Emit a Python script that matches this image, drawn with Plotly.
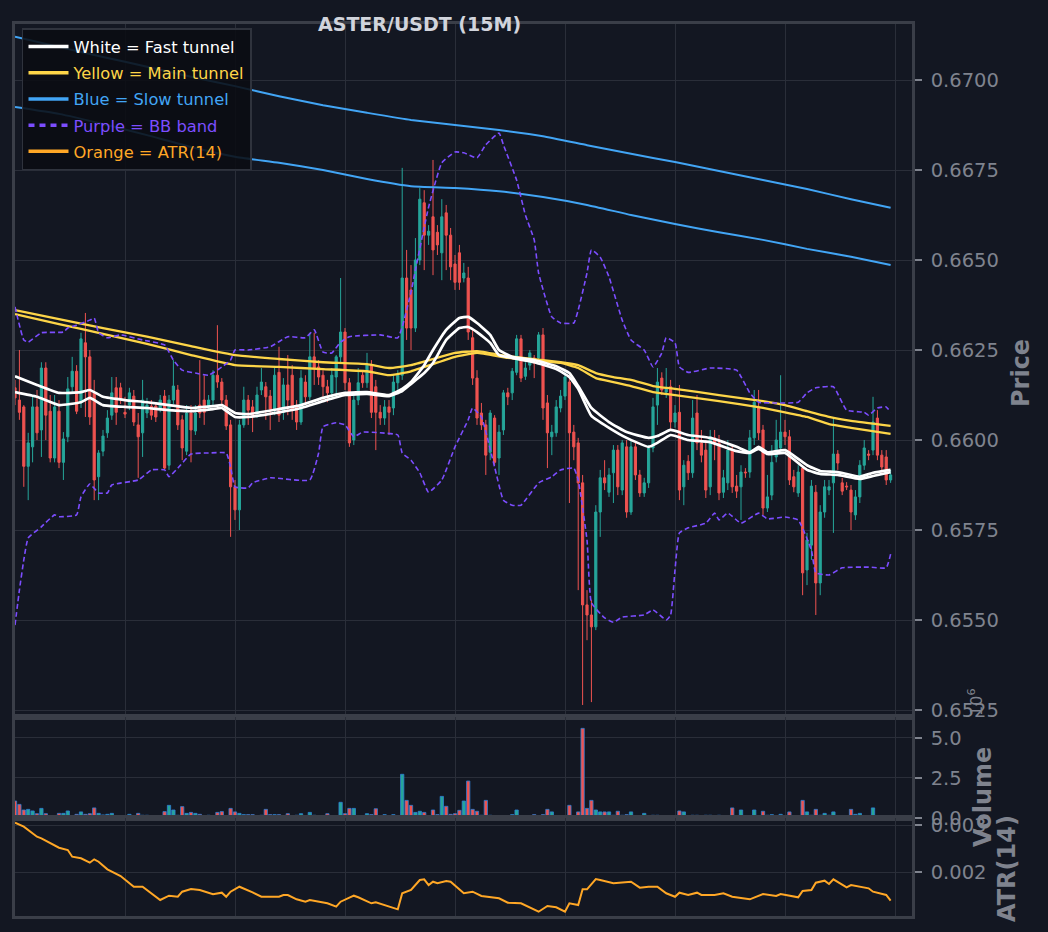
import plotly.graph_objects as go

# ---------------- data ----------------
candle_index = list(range(200))

open_price = [
 0.66145,0.66111,0.66092,0.65927,0.65981,0.66092,0.66028,0.66200,0.66080,0.65950,
 0.66080,0.65938,0.66009,0.66148,0.66191,0.66103,0.66270,0.66231,0.66131,0.65898,
 0.65969,0.66020,0.66069,0.66145,0.66145,0.66077,0.66097,0.66122,0.66042,0.66020,
 0.66075,0.66094,0.66094,0.66089,0.66122,0.65930,0.66111,0.66139,0.66056,0.65969,
 0.66075,0.66025,0.66097,0.66111,0.66092,0.66111,0.66180,0.66161,0.66111,0.66042,
 0.65870,0.65806,0.66042,0.66111,0.66092,0.66077,0.66139,0.66148,0.66122,0.66083,
 0.66188,0.66077,0.66153,0.66180,0.66092,0.66050,0.66161,0.66120,0.66231,0.66203,
 0.66180,0.66148,0.66131,0.66175,0.66231,0.66300,0.66159,0.66000,0.66111,0.66180,
 0.66159,0.66208,0.66148,0.66077,0.66061,0.66092,0.66089,0.66159,0.66180,0.66450,
 0.66417,0.66311,0.66500,0.66659,0.66569,0.66620,0.66577,0.66520,0.66631,0.66569,
 0.66489,0.66520,0.66450,0.66450,0.66284,0.66172,0.66075,0.66042,0.65966,0.66061,
 0.65950,0.66028,0.66131,0.66131,0.66188,0.66281,0.66177,0.66208,0.66228,0.66228,
 0.66292,0.66103,0.66009,0.66020,0.66089,0.66122,0.66161,0.66022,0.65992,0.65881,
 0.65542,0.65514,0.65481,0.65800,0.65895,0.65855,0.65909,0.65972,0.65861,0.65981,
 0.65800,0.65981,0.65903,0.65853,0.65881,0.65978,0.66097,0.66172,0.66133,0.66148,
 0.66050,0.66077,0.65870,0.65941,0.65909,0.66075,0.65992,0.65972,0.65870,0.66006,
 0.65992,0.65855,0.65881,0.65972,0.65872,0.65870,0.65911,0.65911,0.66006,0.66092,
 0.66028,0.65811,0.65847,0.65953,0.65978,0.66022,0.66009,0.65898,0.65853,0.65922,
 0.65639,0.65708,0.65855,0.65603,0.65800,0.65861,0.65881,0.65961,0.65881,0.65872,
 0.65861,0.65792,0.65842,0.65930,0.65961,0.65972,0.66061,0.65958,0.65953,0.65889]

close_price = [
 0.66117,0.66077,0.65927,0.65992,0.66092,0.66020,0.66200,0.66069,0.65950,0.66092,
 0.65938,0.66003,0.66142,0.66191,0.66080,0.66281,0.66231,0.66064,0.65889,0.65964,
 0.66011,0.66061,0.66131,0.66077,0.66111,0.66072,0.66131,0.66050,0.66009,0.66111,
 0.66097,0.66069,0.66064,0.66111,0.65922,0.66111,0.66150,0.66042,0.65978,0.66075,
 0.66028,0.66075,0.66075,0.66077,0.66111,0.66180,0.66161,0.66111,0.66039,0.65870,
 0.65806,0.66042,0.66111,0.66083,0.66069,0.66125,0.66161,0.66120,0.66086,0.66180,
 0.66069,0.66153,0.66111,0.66083,0.66050,0.66172,0.66120,0.66231,0.66200,0.66175,
 0.66148,0.66131,0.66180,0.66231,0.66300,0.66159,0.65992,0.66111,0.66159,0.66159,
 0.66208,0.66077,0.66077,0.66061,0.66092,0.66077,0.66161,0.66180,0.66450,0.66311,
 0.66311,0.66500,0.66669,0.66569,0.66580,0.66528,0.66542,0.66620,0.66569,0.66481,
 0.66438,0.66438,0.66464,0.66300,0.66172,0.66061,0.66042,0.65958,0.66075,0.65938,
 0.66022,0.66131,0.66120,0.66191,0.66281,0.66172,0.66200,0.66242,0.66214,0.66292,
 0.66089,0.66020,0.66022,0.66092,0.66122,0.66175,0.66020,0.65981,0.65881,0.65542,
 0.65514,0.65481,0.65800,0.65895,0.65881,0.65903,0.65972,0.65870,0.65992,0.65800,
 0.65981,0.65903,0.65853,0.65881,0.65978,0.66092,0.66161,0.66139,0.66145,0.66050,
 0.66075,0.65861,0.65930,0.65909,0.66061,0.65992,0.65958,0.65861,0.66009,0.65992,
 0.65853,0.65895,0.65972,0.65870,0.65858,0.65911,0.65909,0.66006,0.66105,0.66020,
 0.65811,0.65842,0.65938,0.66000,0.66022,0.66009,0.65889,0.65870,0.65911,0.65631,
 0.65722,0.65872,0.65603,0.65800,0.65870,0.65870,0.65961,0.65936,0.65858,0.65870,
 0.65800,0.65842,0.65930,0.65978,0.65958,0.66050,0.65958,0.65925,0.65889,0.65903]

high_price = [
 0.66167,0.66250,0.66097,0.66020,0.66120,0.66139,0.66216,0.66216,0.66125,0.66125,
 0.66111,0.66022,0.66175,0.66231,0.66208,0.66298,0.66353,0.66250,0.66167,0.65972,
 0.66028,0.66083,0.66175,0.66175,0.66159,0.66120,0.66145,0.66139,0.66075,0.66167,
 0.66117,0.66111,0.66105,0.66125,0.66139,0.66125,0.66222,0.66153,0.66069,0.66097,
 0.66097,0.66097,0.66222,0.66180,0.66125,0.66194,0.66319,0.66172,0.66125,0.66056,
 0.65889,0.66056,0.66148,0.66125,0.66111,0.66148,0.66200,0.66161,0.66139,0.66203,
 0.66259,0.66172,0.66236,0.66208,0.66111,0.66194,0.66180,0.66298,0.66298,0.66222,
 0.66194,0.66167,0.66200,0.66236,0.66450,0.66311,0.66172,0.66125,0.66200,0.66194,
 0.66242,0.66222,0.66167,0.66097,0.66111,0.66111,0.66180,0.66194,0.66756,0.66528,
 0.66486,0.66561,0.66700,0.66694,0.66597,0.66778,0.66597,0.66669,0.66653,0.66589,
 0.66514,0.66542,0.66492,0.66481,0.66306,0.66194,0.66103,0.66056,0.66083,0.66069,
 0.66042,0.66139,0.66145,0.66200,0.66292,0.66292,0.66216,0.66250,0.66236,0.66300,
 0.66311,0.66125,0.66042,0.66111,0.66139,0.66188,0.66180,0.66042,0.66006,0.65903,
 0.65583,0.65556,0.65819,0.65917,0.65944,0.65922,0.65986,0.65986,0.66000,0.66000,
 0.66000,0.65992,0.65917,0.65895,0.65986,0.66117,0.66200,0.66188,0.66200,0.66167,
 0.66097,0.66153,0.65944,0.65958,0.66111,0.66125,0.66028,0.66000,0.66028,0.66028,
 0.66014,0.65917,0.66000,0.65986,0.65903,0.65930,0.65922,0.66028,0.66139,0.66139,
 0.66042,0.65903,0.65986,0.66056,0.66180,0.66056,0.66028,0.65917,0.65930,0.65930,
 0.65742,0.65889,0.65875,0.65819,0.65889,0.65889,0.66064,0.65972,0.65895,0.65883,
 0.65875,0.65861,0.65944,0.66000,0.65972,0.66120,0.66083,0.65972,0.65972,0.65917]

low_price = [
 0.66097,0.66056,0.65870,0.65833,0.65938,0.66000,0.65953,0.66000,0.65938,0.65938,
 0.65922,0.65889,0.65994,0.66133,0.66072,0.66089,0.66064,0.66042,0.65833,0.65833,
 0.65955,0.66006,0.66056,0.66042,0.66100,0.66061,0.66083,0.66039,0.65895,0.65953,
 0.66061,0.66056,0.66050,0.66077,0.65917,0.65917,0.66100,0.66028,0.65944,0.65958,
 0.65938,0.66014,0.66061,0.66042,0.66083,0.66097,0.66145,0.66097,0.66028,0.65731,
 0.65778,0.65750,0.66034,0.66042,0.66022,0.66061,0.66125,0.66056,0.66028,0.66069,
 0.66050,0.66056,0.66069,0.66056,0.66028,0.66042,0.66103,0.66111,0.66153,0.66153,
 0.66111,0.66105,0.66117,0.66125,0.66216,0.66139,0.65981,0.65986,0.66097,0.66145,
 0.66145,0.66061,0.65972,0.66042,0.66042,0.66014,0.66069,0.66139,0.66167,0.66278,
 0.66250,0.66300,0.66486,0.66472,0.66542,0.66458,0.66514,0.66444,0.66472,0.66444,
 0.66417,0.66417,0.66438,0.66278,0.66153,0.66042,0.66028,0.65903,0.65944,0.65930,
 0.65903,0.66014,0.66097,0.66111,0.66180,0.66161,0.66167,0.66194,0.66172,0.66216,
 0.66056,0.65922,0.65958,0.66009,0.66077,0.66111,0.65825,0.65944,0.65583,0.65264,
 0.65444,0.65272,0.65472,0.65731,0.65861,0.65842,0.65825,0.65847,0.65847,0.65784,
 0.65792,0.65889,0.65842,0.65842,0.65867,0.65966,0.66042,0.66125,0.66117,0.66028,
 0.66034,0.65833,0.65819,0.65889,0.65895,0.65972,0.65938,0.65839,0.65847,0.65944,
 0.65833,0.65839,0.65861,0.65853,0.65839,0.65778,0.65895,0.65895,0.65986,0.66000,
 0.65792,0.65800,0.65833,0.65938,0.65966,0.65986,0.65875,0.65855,0.65842,0.65569,
 0.65597,0.65667,0.65514,0.65569,0.65784,0.65847,0.65742,0.65917,0.65847,0.65861,
 0.65750,0.65778,0.65825,0.65917,0.65944,0.65958,0.65944,0.65903,0.65875,0.65881]

volume_millions = [
 1.06,0.85,0.50,0.54,0.44,0.27,0.60,0.27,0.15,0.15,
 0.29,0.29,0.44,0.15,0.23,0.38,0.23,0.27,0.63,0.29,
 0.19,0.23,0.29,0.13,0.15,0.04,0.23,0.04,0.29,0.17,
 0.17,0.04,0.06,0.06,0.40,0.79,0.50,0.17,0.71,0.29,
 0.35,0.29,0.23,0.06,0.17,0.10,0.35,0.40,0.04,0.60,
 0.38,0.29,0.21,0.21,0.21,0.10,0.17,0.54,0.21,0.21,
 0.21,0.13,0.27,0.08,0.17,0.27,0.15,0.35,0.17,0.08,
 0.13,0.27,0.10,0.04,0.98,0.27,0.60,0.60,0.08,0.08,
 0.27,0.21,0.58,0.10,0.21,0.06,0.21,0.04,2.73,1.10,
 0.79,0.35,0.42,0.35,0.13,0.50,0.21,1.35,0.73,0.23,
 0.27,0.48,1.06,2.31,0.54,0.42,0.17,1.10,0.17,0.08,
 0.15,0.08,0.02,0.21,0.50,0.02,0.02,0.02,0.21,0.08,
 0.21,0.54,0.38,0.10,0.10,0.10,0.79,0.13,0.38,5.60,
 0.60,1.10,0.50,0.38,0.38,0.38,0.17,0.42,0.17,0.21,
 0.38,0.04,0.04,0.29,0.10,0.17,0.17,0.08,0.04,0.15,
 0.10,0.44,0.38,0.08,0.17,0.17,0.10,0.17,0.17,0.08,
 0.17,0.04,0.08,0.63,0.04,0.50,0.15,0.08,0.50,0.10,
 0.42,0.17,0.21,0.08,0.23,0.08,0.38,0.08,0.08,1.10,
 0.38,0.17,0.54,0.17,0.29,0.17,0.38,0.04,0.10,0.10,
 0.54,0.23,0.29,0.10,0.08,0.63,0.10,0.02,0.02,0.02]

# fast tunnel (white)
fast_idx = [0,5,10,15,17,20,25,30,35,40,45,47,50,53,60,65,70,75,80,85,88,90,93,95,98,
            101,103,105,108,110,113,118,123,126,128,131,135,139,144,146,149,153,158,
            164,167,169,171,175,180,183,187,192,195,199]
fast_a = [0.66177,0.66153,0.66131,0.66133,0.66139,0.66120,0.66111,0.66105,0.66097,0.66089,
          0.66094,0.66097,0.66075,0.66072,0.66086,0.66097,0.66117,0.66131,0.66133,0.66125,
          0.66142,0.66161,0.66208,0.66250,0.66306,0.66339,0.66342,0.66325,0.66292,0.66250,
          0.66231,0.66222,0.66205,0.66186,0.66150,0.66089,0.66050,0.66022,0.66006,0.66011,
          0.66028,0.66014,0.66006,0.65981,0.65966,0.65981,0.65966,0.65972,0.65930,0.65914,
          0.65911,0.65898,0.65909,0.65917]
fast_b = [0.66133,0.66120,0.66097,0.66105,0.66117,0.66097,0.66092,0.66089,0.66083,0.66080,
          0.66086,0.66089,0.66064,0.66064,0.66077,0.66089,0.66108,0.66125,0.66128,0.66122,
          0.66136,0.66156,0.66186,0.66214,0.66278,0.66311,0.66314,0.66300,0.66270,0.66236,
          0.66228,0.66216,0.66197,0.66175,0.66142,0.66067,0.66034,0.66006,0.65981,0.65992,
          0.66014,0.66000,0.65994,0.65969,0.65964,0.65975,0.65961,0.65964,0.65917,0.65906,
          0.65903,0.65892,0.65900,0.65911]

# main tunnel (yellow)
main_idx = [0,10,20,30,40,50,60,70,80,85,90,95,100,105,112,124,128,132,136,140,145,150,
            160,170,175,180,185,190,199]
main_a = [0.66361,0.66336,0.66311,0.66287,0.66261,0.66236,0.66225,0.66216,0.66211,0.66200,
          0.66208,0.66225,0.66242,0.66247,0.66233,0.66216,0.66208,0.66186,0.66175,0.66167,
          0.66150,0.66142,0.66125,0.66108,0.66097,0.66080,0.66064,0.66053,0.66039]
main_b = [0.66350,0.66322,0.66295,0.66267,0.66236,0.66208,0.66203,0.66197,0.66191,0.66180,
          0.66191,0.66211,0.66231,0.66242,0.66228,0.66214,0.66200,0.66172,0.66161,0.66150,
          0.66133,0.66125,0.66108,0.66089,0.66077,0.66064,0.66044,0.66034,0.66017]

# slow tunnel (blue)
slow_idx = [0,10,20,30,40,50,60,70,80,90,100,110,120,130,140,150,160,170,180,190,199]
slow_a = [0.67120,0.67092,0.67064,0.67037,0.67009,0.66983,0.66955,0.66930,0.66909,0.66889,
          0.66875,0.66861,0.66844,0.66819,0.66795,0.66772,0.66747,0.66722,0.66697,0.66669,
          0.66645]
slow_b = [0.66925,0.66906,0.66878,0.66847,0.66814,0.66787,0.66770,0.66750,0.66725,0.66705,
          0.66700,0.66691,0.66675,0.66653,0.66625,0.66600,0.66577,0.66556,0.66531,0.66509,
          0.66486]

# Bollinger band (purple)
bb_up_idx = [0,2,3,6,11,12,14,17,18,19,21,24,29,34,36,38,41,44,47,49,50,53,58,62,66,68,70,
             72,74,76,83,87,88,90,91,94,97,100,102,105,107,110,111,114,116,118,119,122,124,
             127,128,130,131,133,135,138,140,143,145,147,148,150,151,153,158,164,167,169,
             173,178,180,182,186,189,193,194,196,198,199]
bb_up = [0.66370,0.66278,0.66272,0.66298,0.66300,0.66311,0.66319,0.66333,0.66339,0.66298,
         0.66284,0.66292,0.66278,0.66264,0.66222,0.66194,0.66186,0.66180,0.66203,0.66222,
         0.66250,0.66250,0.66259,0.66287,0.66284,0.66306,0.66244,0.66242,0.66272,0.66287,
         0.66292,0.66284,0.66314,0.66411,0.66472,0.66647,0.66770,0.66800,0.66798,0.66784,
         0.66820,0.66853,0.66820,0.66722,0.66625,0.66556,0.66464,0.66342,0.66325,0.66325,
         0.66361,0.66464,0.66528,0.66508,0.66453,0.66333,0.66278,0.66250,0.66203,0.66242,
         0.66284,0.66270,0.66203,0.66188,0.66200,0.66194,0.66131,0.66105,0.66103,0.66105,
         0.66131,0.66145,0.66148,0.66083,0.66077,0.66069,0.66089,0.66092,0.66077]
bb_lo_idx = [0,1,2,3,6,9,10,14,15,17,19,21,22,28,31,34,35,37,40,44,48,49,50,53,54,58,67,69,
             70,73,75,77,79,83,87,88,90,92,94,97,100,103,104,106,109,111,113,115,119,122,124,
             127,128,130,131,134,136,138,143,145,148,149,150,151,153,157,159,160,162,165,169,
             171,175,178,181,182,185,188,194,198,199]
bb_lo = [0.65486,0.65583,0.65667,0.65728,0.65759,0.65792,0.65787,0.65792,0.65842,0.65878,
         0.65853,0.65853,0.65875,0.65889,0.65917,0.65917,0.65898,0.65922,0.65961,0.65964,
         0.65964,0.65925,0.65870,0.65867,0.65881,0.65895,0.65889,0.65964,0.66037,0.66048,
         0.66042,0.66009,0.66022,0.66020,0.66014,0.65964,0.65944,0.65909,0.65855,0.65889,
         0.65981,0.66056,0.66089,0.66064,0.65925,0.65833,0.65819,0.65819,0.65881,0.65898,
         0.65917,0.65922,0.65889,0.65722,0.65548,0.65506,0.65494,0.65508,0.65514,0.65528,
         0.65500,0.65514,0.65639,0.65742,0.65756,0.65769,0.65797,0.65778,0.65797,0.65769,
         0.65797,0.65781,0.65786,0.65778,0.65694,0.65631,0.65625,0.65645,0.65647,0.65645,
         0.65683]

# ATR(14)
atr_idx = [0,2,5,6,10,12,13,15,17,18,19,21,24,27,29,33,35,37,38,40,42,45,47,48,49,51,54,56,
           60,61,62,64,66,67,71,73,74,77,78,81,82,87,88,90,92,93,94,95,96,98,99,101,102,104,
           106,110,112,115,119,121,123,125,126,128,129,130,132,133,136,140,142,144,146,148,
           150,151,153,155,156,159,161,163,167,170,173,174,178,179,181,182,184,185,186,189,
           190,194,195,198,199]
atr_val = [0.003049,0.002964,0.002751,0.002717,0.002517,0.002468,0.002326,0.002291,0.002198,0.002270,
           0.002219,0.002057,0.001915,0.001687,0.001687,0.001404,0.001496,0.001474,0.001581,0.001638,
           0.001617,0.001526,0.001560,0.001474,0.001581,0.001687,0.001568,0.001474,0.001474,0.001511,
           0.001511,0.001419,0.001368,0.001404,0.001334,0.001262,0.001368,0.001496,0.001462,0.001334,
           0.001355,0.001206,0.001547,0.001617,0.001830,0.001845,0.001723,0.001794,0.001760,0.001809,
           0.001794,0.001617,0.001547,0.001581,0.001489,0.001440,0.001347,0.001334,0.001155,0.001277,
           0.001249,0.001155,0.001334,0.001298,0.001632,0.001632,0.001851,0.001830,0.001760,0.001794,
           0.001666,0.001687,0.001687,0.001547,0.001474,0.001560,0.001511,0.001560,0.001511,0.001511,
           0.001547,0.001474,0.001419,0.001532,0.001489,0.001532,0.001462,0.001596,0.001617,0.001772,
           0.001815,0.001745,0.001845,0.001674,0.001723,0.001653,0.001581,0.001511,0.001389]

price_ticks = [0.6525, 0.6550, 0.6575, 0.6600, 0.6625, 0.6650, 0.6675, 0.6700]
volume_ticks = [0.0, 2.5, 5.0]
atr_ticks = [0.002, 0.003]
grid_x = [0, 25, 50, 75, 100, 125, 150, 175, 200]

# ---------------- style ----------------
BG = "#131722"
GRID = "#2a2e39"
SPINE = "#3a3e48"
TXT = "#7f838e"
UP = "#26a69a"
DOWN = "#ef5350"
WHITE = "#ffffff"
YELLOW = "#fdd548"
BLUE = "#42a5f5"
PURPLE = "#7c4dff"
ORANGE = "#ffa726"
FONT = "DejaVu Sans"

fig = go.Figure()

fig.add_trace(go.Candlestick(
    x=candle_index, open=open_price, high=high_price, low=low_price, close=close_price,
    increasing=dict(line=dict(color=UP, width=1), fillcolor=UP),
    decreasing=dict(line=dict(color=DOWN, width=1), fillcolor=DOWN),
    whiskerwidth=0, showlegend=False, hoverinfo="skip", xaxis="x", yaxis="y"))

def line(xs, ys, color, width, dash=None, xa="x", ya="y"):
    fig.add_trace(go.Scatter(x=xs, y=ys, mode="lines", showlegend=False, hoverinfo="skip",
                             line=dict(color=color, width=width, dash=dash, shape="spline", smoothing=0.4),
                             xaxis=xa, yaxis=ya))

line(slow_idx, slow_a, BLUE, 2)
line(slow_idx, slow_b, BLUE, 2)
line(main_idx, main_a, YELLOW, 2.3)
line(main_idx, main_b, YELLOW, 2.3)
line(fast_idx, fast_a, WHITE, 2.7)
line(fast_idx, fast_b, WHITE, 2.7)
line(bb_up_idx, bb_up, PURPLE, 1.6, "5px,3px")
line(bb_lo_idx, bb_lo, PURPLE, 1.6, "5px,3px")

vol_colors = [UP if c >= o else DOWN for o, c in zip(open_price, close_price)]
fig.add_trace(go.Bar(x=candle_index, y=volume_millions, marker=dict(color=vol_colors,
              line=dict(color="#2f7fd6", width=0.8)), width=0.75, showlegend=False,
              hoverinfo="skip", xaxis="x2", yaxis="y2"))

fig.add_trace(go.Scatter(x=atr_idx, y=atr_val, mode="lines", line=dict(color=ORANGE, width=2),
                         showlegend=False, hoverinfo="skip", xaxis="x3", yaxis="y3"))

legend_items = [("White = Fast tunnel", WHITE, None), ("Yellow = Main tunnel", YELLOW, None),
                ("Blue = Slow tunnel", BLUE, None), ("Purple = BB band", PURPLE, "6px,5px"),
                ("Orange = ATR(14)", ORANGE, None)]
for k, (name, col, dash) in enumerate(legend_items):
    fig.add_trace(go.Scatter(x=[None], y=[None], mode="lines", legendgroup=f"g{k}",
                             name=f"<span style='color:{col}'>{name}</span>",
                             line=dict(color=col, width=3.5, dash=dash), xaxis="x", yaxis="y"))

axis_common = dict(showgrid=True, gridcolor=GRID, gridwidth=1, zeroline=False,
                   showline=True, mirror=True, linecolor=SPINE, linewidth=2.5)
x_common = dict(axis_common, range=[0, 203.86], tickmode="array", tickvals=grid_x,
                showticklabels=False, ticks="", automargin=False)
y_common = dict(axis_common, side="right", ticks="outside", ticklen=7, tickwidth=1.5,
                tickcolor=TXT, tickfont=dict(size=19.5, color=TXT, family=FONT),
                ticklabelstandoff=5, tickmode="array", automargin=False)

P_BOT = 199 / 892
V_BOT = 98 / 892

fig.update_layout(
    width=1048, height=932, autosize=False,
    margin=dict(l=15, r=136, t=24, b=16, autoexpand=False),
    paper_bgcolor=BG, plot_bgcolor=BG,
    font=dict(family=FONT, color=TXT),
    xaxis=dict(x_common, domain=[0, 1], anchor="y", rangeslider=dict(visible=False)),
    xaxis2=dict(x_common, domain=[0, 1], anchor="y2"),
    xaxis3=dict(x_common, domain=[0, 1], anchor="y3"),
    yaxis=dict(y_common, domain=[P_BOT, 1], anchor="x", range=[0.652306, 0.671556],
               tickvals=price_ticks, tickformat=".4f"),
    yaxis2=dict(y_common, domain=[V_BOT, P_BOT], anchor="x2", range=[0, 6.31],
                tickvals=volume_ticks, tickformat=".1f"),
    yaxis3=dict(y_common, domain=[0, V_BOT], anchor="x3", range=[0.001064, 0.003149],
                tickvals=atr_ticks, tickformat=".3f"),
    showlegend=True,
    legend=dict(x=0.0078, y=0.9955, xanchor="left", yanchor="top",
                bgcolor="rgba(10,12,18,0.88)", bordercolor="#2f333d", borderwidth=1.5,
                font=dict(size=16.3, family=FONT), traceorder="grouped", tracegroupgap=2,
                itemwidth=40),
    annotations=[
        dict(text="<b>ASTER/USDT (15M)</b>", x=0.4515, y=1.0, xref="paper", yref="paper",
             xanchor="center", yanchor="middle", showarrow=False,
             font=dict(size=19, color="#d1d4dc", family=FONT)),
        dict(text="<b>Price</b>", x=1.1215, y=0.6087, xref="paper", yref="paper",
             textangle=-90, xanchor="center", yanchor="middle", showarrow=False,
             font=dict(size=24, color=TXT, family=FONT)),
        dict(text="<b>Volume</b>", x=1.0791, y=0.1334, xref="paper", yref="paper",
             textangle=-90, xanchor="center", yanchor="middle", showarrow=False,
             font=dict(size=24, color=TXT, family=FONT)),
        dict(text="<b>ATR(14)</b>", x=1.1059, y=0.0538, xref="paper", yref="paper",
             textangle=-90, xanchor="center", yanchor="middle", showarrow=False,
             font=dict(size=24, color=TXT, family=FONT)),
        dict(text="10<sup>6</sup>", x=1.0702, y=0.2399, xref="paper", yref="paper",
             textangle=-90, xanchor="center", yanchor="middle", showarrow=False,
             font=dict(size=16, color=TXT, family=FONT)),
    ],
)

fig.write_html("out.html", config={"displayModeBar": False},
               post_script="document.body.style.margin='0';document.body.style.overflow='hidden';")
